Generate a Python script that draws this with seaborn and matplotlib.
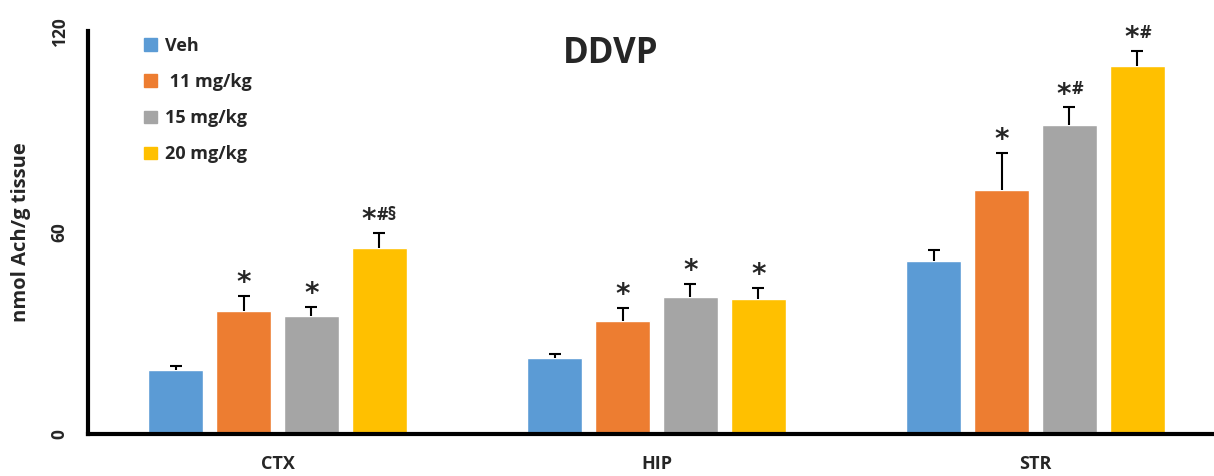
import numpy as np
import pandas as pd
import matplotlib
matplotlib.use("Agg")
import matplotlib.pyplot as plt
import seaborn as sns

regions = ["CTX", "HIP", "STR"]
doses = ["Veh", " 11 mg/kg", "15 mg/kg", "20 mg/kg"]
colors = ["#5B9BD5", "#ED7D31", "#A5A5A5", "#FFC000"]

# mean and upper error per dose, in region order CTX, HIP, STR
veh = [19.1, 22.5, 51.4]
d11 = [36.6, 33.7, 72.7]
d15 = [35.1, 40.7, 91.9]
d20 = [55.5, 40.2, 109.7]
veh_err = [1.2, 1.3, 3.5]
d11_err = [4.5, 3.9, 11.0]
d15_err = [2.8, 4.1, 5.4]
d20_err = [4.4, 3.4, 4.4]

veh_sig = ["", "", ""]
d11_sig = ["*", "*", "*"]
d15_sig = ["*", "*", "*#"]
d20_sig = ["*#§", "*", "*#"]

means = [veh, d11, d15, d20]
errs = [veh_err, d11_err, d15_err, d20_err]
sigs = [veh_sig, d11_sig, d15_sig, d20_sig]

rows = []
for dose, vals in zip(doses, means):
    for reg, v in zip(regions, vals):
        rows.append({"region": reg, "dose": dose, "value": v})
df = pd.DataFrame(rows)

sns.set_style("white")
plt.rcParams["font.family"] = ["Open Sans", "DejaVu Sans"]
plt.rcParams["font.weight"] = "bold"

fig = plt.figure(figsize=(12.14, 4.76), dpi=100)
ax = fig.add_axes([88 / 1214, 1 - 434 / 476, (1214 - 88) / 1214, 403 / 476])

sns.barplot(data=df, x="region", y="value", hue="dose", palette=colors,
            saturation=1, width=0.717, gap=0.2, errorbar=None, ax=ax, legend=False)

for cont, err, sig in zip(ax.containers, errs, sigs):
    xs = [p.get_x() + p.get_width() / 2 for p in cont]
    hs = [p.get_height() for p in cont]
    _, caps, _ = ax.errorbar(xs, hs, yerr=[np.zeros(len(err)), err], fmt="none",
                             ecolor="black", elinewidth=1.5, capsize=4.5, capthick=1.5)
    caps[0].set_visible(False)  # lower caps sit on the bar top
    for x, h, e, s in zip(xs, hs, err, sig):
        if not s:
            continue
        top = h + e
        rest = s[1:]
        # split point so the whole group stays centred on the bar
        split = 0 if not rest else (1 if len(rest) == 1 else -2.5)
        ax.annotate("*", (x, top), xytext=(split, -1), textcoords="offset points",
                    ha="center" if not rest else "right", va="bottom",
                    fontsize=20, fontweight="bold", family="DejaVu Sans")
        if rest:
            ax.annotate(rest, (x, top), xytext=(split + 0.5, 9.5), textcoords="offset points",
                        ha="left", va="baseline", fontsize=13, fontweight="bold")

ax.set_ylim(0, 120)
ax.set_xlim(-0.5, 2.471)
ax.set_yticks([0, 60, 120])
ax.set_yticklabels(["0", "60", "120"], rotation=90, va="center",
                   fontsize=12.5, fontweight="bold")
ax.tick_params(axis="y", length=0, pad=14)
ax.tick_params(axis="x", length=0, pad=15, labelsize=13)
for lab in ax.get_xticklabels():
    lab.set_fontweight("bold")
ax.set_xlabel("")
ax.set_ylabel("nmol Ach/g tissue", fontsize=14.5, fontweight="bold", labelpad=14)

for side in ["top", "right"]:
    ax.spines[side].set_visible(False)
for side in ["left", "bottom"]:
    ax.spines[side].set_linewidth(3)
    ax.spines[side].set_color("black")

ax.set_title("DDVP", fontsize=25, fontweight="bold", x=0.464, y=0.9)

handles = [plt.Rectangle((0, 0), 1, 1, color=c) for c in colors]
ax.legend(handles, doses, loc="upper left", bbox_to_anchor=(0.05, 0.985),
          frameon=False, handlelength=0.7, handleheight=0.7,
          handletextpad=0.45, labelspacing=1.0, borderpad=0, borderaxespad=0,
          prop={"weight": "bold", "size": 13})

fig.savefig("out.png", dpi=100)
